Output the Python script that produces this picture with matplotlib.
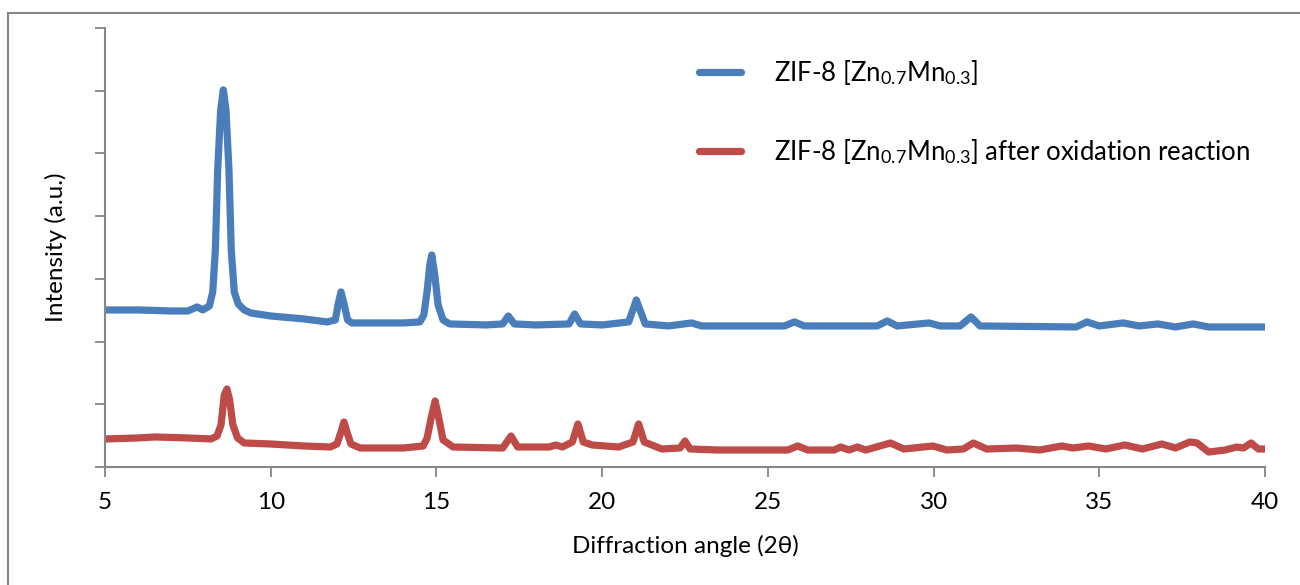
import matplotlib
matplotlib.use("Agg")
import matplotlib.pyplot as plt
from matplotlib.patches import Rectangle

# ---------------- data ----------------
blue_2theta = [5.0, 6.0, 7.0, 7.5, 7.78, 7.95, 8.15, 8.25, 8.33, 8.40, 8.49, 8.57,
               8.65, 8.74, 8.81, 8.9, 9.02, 9.2, 9.4, 10.0, 11.0, 11.7, 11.95, 12.03, 12.12,
               12.22, 12.32, 12.45, 13.0, 14.0, 14.5, 14.62, 14.72, 14.8, 14.86, 14.95,
               15.05, 15.2, 15.4, 16.5, 17.0, 17.17, 17.35, 18.0, 19.0, 19.17, 19.35,
               20.0, 20.8, 20.95, 21.03, 21.12, 21.3, 22.0, 22.7, 23.0, 25.5, 25.8, 26.1,
               28.3, 28.6, 28.9, 29.87, 30.2, 30.8, 31.13, 31.4, 34.3, 34.63, 35.0,
               35.72, 36.2, 36.77, 37.3, 37.83, 38.3, 40.0]
blue_intensity = [250.4, 250.4, 248.8, 248.8, 255.2, 250.4, 256.8, 279.1, 346.0, 473.7,
                  569.4, 601.3, 569.4, 473.7, 346.0, 279.1, 260.0, 250.4, 245.6, 240.8,
                  236.1, 231.3, 234.5, 258.4, 279.1, 258.4, 234.5, 229.7, 229.7, 229.7,
                  231.3, 242.4, 280.7, 322.2, 338.1, 306.2, 258.4, 234.5, 228.1, 226.5,
                  228.1, 240.8, 228.1, 226.5, 228.1, 244.0, 228.1, 226.5, 231.3, 253.6,
                  266.4, 253.6, 228.1, 224.9, 229.7, 224.9, 224.9, 231.3, 224.9, 224.9,
                  232.9, 224.9, 229.7, 224.9, 224.9, 239.3, 224.9, 223.3, 231.3, 224.9,
                  229.7, 224.9, 228.1, 223.3, 228.1, 223.3, 223.3]

red_2theta = [5.0, 6.0, 6.5, 7.5, 8.2, 8.38, 8.5, 8.6, 8.68, 8.76, 8.86, 9.0, 9.2,
              10.0, 11.0, 11.8, 12.0, 12.12, 12.21, 12.3, 12.42, 12.7, 14.0, 14.6, 14.72,
              14.84, 14.96, 15.07, 15.2, 15.5, 17.0, 17.25, 17.45, 18.4, 18.6, 18.8,
              19.1, 19.27, 19.43, 19.7, 20.5, 20.93, 21.1, 21.27, 21.8, 22.35, 22.5,
              22.65, 23.5, 25.6, 25.9, 26.2, 27.0, 27.2, 27.45, 27.7, 27.95, 28.7, 29.1,
              29.98, 30.4, 30.9, 31.2, 31.6, 32.5, 33.2, 33.87, 34.2, 34.68, 35.2, 35.77,
              36.3, 36.89, 37.3, 37.73, 37.95, 38.3, 38.8, 39.15, 39.35, 39.58, 39.8,
              40.0]
red_intensity = [44.7, 46.3, 47.9, 46.3, 44.7, 49.4, 67.0, 114.8, 124.4, 106.9, 67.0,
                 46.3, 38.3, 36.7, 33.5, 31.9, 36.7, 55.8, 71.8, 55.8, 36.7, 30.3, 30.3,
                 33.5, 46.3, 78.2, 105.3, 78.2, 43.1, 31.9, 30.3, 49.4, 31.9, 31.9, 35.1,
                 31.9, 39.9, 68.6, 39.9, 35.1, 31.9, 39.9, 68.6, 39.9, 28.7, 30.3, 41.5,
                 28.7, 27.1, 27.1, 33.5, 27.1, 27.1, 31.9, 27.1, 31.9, 27.1, 38.3, 28.7,
                 33.5, 27.1, 28.7, 38.3, 28.7, 30.3, 27.1, 33.5, 30.3, 33.5, 28.7, 35.1,
                 28.7, 36.7, 30.3, 39.9, 38.3, 23.9, 27.1, 31.9, 30.3, 38.3, 28.7, 28.7]

series_labels = [r"ZIF-8 [Zn$_{\mathregular{0.7}}$Mn$_{\mathregular{0.3}}$]",
                 r"ZIF-8 [Zn$_{\mathregular{0.7}}$Mn$_{\mathregular{0.3}}$] after oxidation reaction"]
x_ticks = [5, 10, 15, 20, 25, 30, 35, 40]
y_ticks = [0, 100, 200, 300, 400, 500, 600, 700]
x_label = "Diffraction angle (2θ)"
y_label = "Intensity (a.u.)"

# ---------------- style ----------------
plt.rcParams['font.family'] = ['Lato', 'DejaVu Sans']
plt.rcParams['mathtext.fontset'] = 'custom'
plt.rcParams['mathtext.rm'] = 'Lato'
plt.rcParams['mathtext.it'] = 'Lato:italic'
plt.rcParams['mathtext.bf'] = 'Lato:bold'

W, H = 1300, 585
fig = plt.figure(figsize=(W / 100, H / 100), dpi=100)
ax = fig.add_axes([105 / W, 1 - 467 / H, (1265 - 105) / W, (467 - 28) / H])

blue = '#4A7EBB'
red = '#BE4B48'
grey = '#868686'
FS = 17.5

ax.plot(blue_2theta, blue_intensity, color=blue, lw=5.2, solid_joinstyle='round',
        solid_capstyle='round', label=series_labels[0])
ax.plot(red_2theta, red_intensity, color=red, lw=5.2, solid_joinstyle='round',
        solid_capstyle='round', label=series_labels[1])

ax.set_xlim(5, 40)
ax.set_ylim(0, 700)
ax.set_xticks(x_ticks)
ax.set_yticks(y_ticks)
ax.set_yticklabels([])
ax.tick_params(axis='both', direction='out', length=7, width=1.3, color=grey,
               labelsize=FS, labelcolor='black')
ax.tick_params(axis='x', pad=11)
for s in ['top', 'right']:
    ax.spines[s].set_visible(False)
for s in ['left', 'bottom']:
    ax.spines[s].set_color(grey)
    ax.spines[s].set_linewidth(1.5)

ax.set_xlabel(x_label, fontsize=FS, labelpad=15.5)
ax.set_ylabel(y_label, fontsize=FS, labelpad=17)

leg = ax.legend(loc='upper left', bbox_to_anchor=(699 / W, 1 - 58 / H),
                bbox_transform=fig.transFigure, frameon=False, fontsize=18.5,
                handlelength=1.65, handletextpad=1.25, labelspacing=1.93,
                borderpad=0, borderaxespad=0)

# outer chart-area border
fig.patches.append(Rectangle((8 / W, -0.1), 1.2, 1 - 12.5 / H + 0.1,
                             transform=fig.transFigure, fill=False,
                             edgecolor=grey, linewidth=1.5))

fig.savefig('out.png', dpi=100)
